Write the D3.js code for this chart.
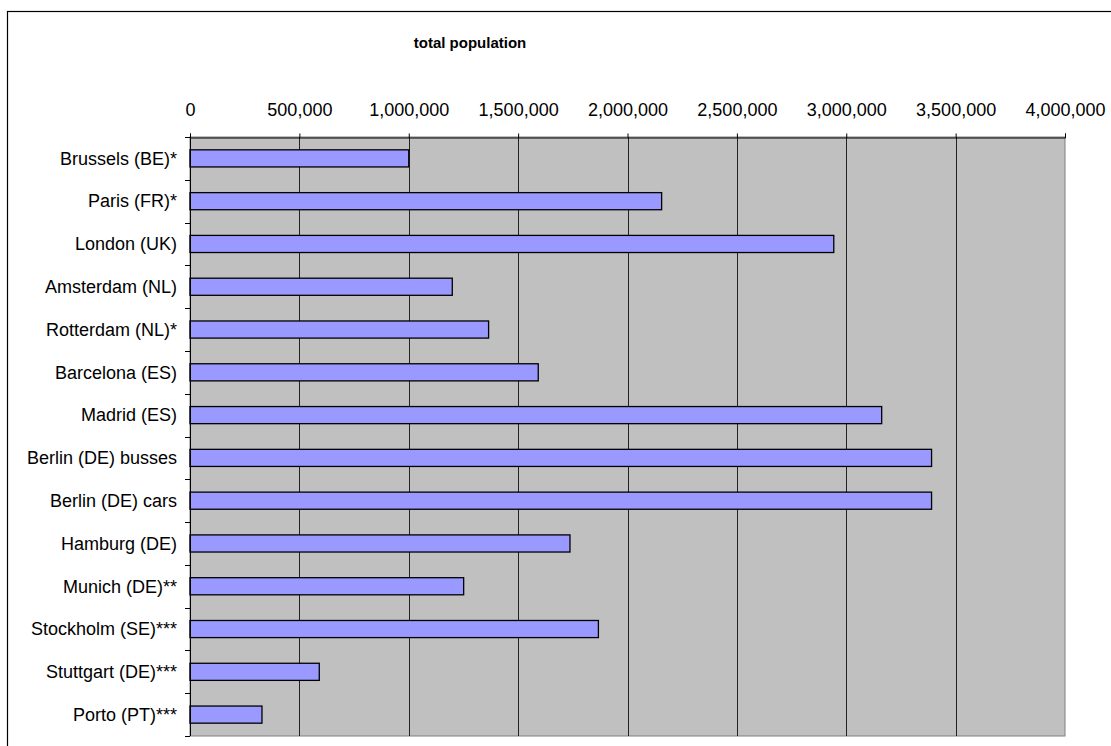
<!DOCTYPE html>
<html>
<head>
<meta charset="utf-8">
<script src="https://cdn.jsdelivr.net/npm/d3@7"></script>
<style>
  html, body { margin: 0; padding: 0; background: #fff; }
  svg { display: block; font-family: Arial, "Liberation Sans", sans-serif; }
</style>
</head>
<body>
<svg id="chart" width="1111" height="746"></svg>
<script>
// City / vehicle-fleet categories, top to bottom
const categories = [
  "Brussels (BE)*", "Paris (FR)*", "London (UK)", "Amsterdam (NL)",
  "Rotterdam (NL)*", "Barcelona (ES)", "Madrid (ES)", "Berlin (DE) busses",
  "Berlin (DE) cars", "Hamburg (DE)", "Munich (DE)**", "Stockholm (SE)***",
  "Stuttgart (DE)***", "Porto (PT)***"
];
// Total population per category
const population = [
  1000000, 2156000, 2943000, 1199000,
  1365000, 1592000, 3162000, 3390000,
  3390000, 1737000, 1251000, 1867000,
  591000, 329000
];
// Value-axis ticks
const xTicks = [0, 500000, 1000000, 1500000, 2000000, 2500000, 3000000, 3500000, 4000000];
const chartTitle = "total population";

const svg = d3.select("#chart");
const plot = { left: 190, right: 1065, top: 137, bottom: 736 };

const x = d3.scaleLinear().domain([0, 4000000]).range([plot.left, plot.right]);
const y = d3.scaleBand().domain(categories).range([plot.top, plot.bottom])
  .paddingInner(0.6).paddingOuter(0.3);

// Outer chart frame (right and bottom edges run past the canvas)
svg.append("rect")
  .attr("x", 7.5).attr("y", 11.5).attr("width", 1120).attr("height", 760)
  .attr("fill", "#fff").attr("stroke", "#000").attr("stroke-width", 1.2);

// Title
svg.append("text")
  .attr("x", 470).attr("y", 48)
  .attr("text-anchor", "middle")
  .attr("font-size", 15).attr("font-weight", "bold").attr("fill", "#000")
  .text(chartTitle);

// Plot background
svg.append("rect")
  .attr("x", plot.left).attr("y", plot.top)
  .attr("width", plot.right - plot.left).attr("height", plot.bottom - plot.top)
  .attr("fill", "#c0c0c0").attr("stroke", "#808080").attr("stroke-width", 1);

// Vertical gridlines
svg.append("g").selectAll("line")
  .data(xTicks.filter(d => d > 0 && d < 4000000))
  .join("line")
  .attr("x1", d => Math.round(x(d)) + 0.5).attr("x2", d => Math.round(x(d)) + 0.5)
  .attr("y1", plot.top).attr("y2", plot.bottom)
  .attr("stroke", "#222").attr("stroke-width", 1);

// Bars
svg.append("g").selectAll("rect")
  .data(categories.map((c, i) => ({ c, v: population[i] })))
  .join("rect")
  .attr("x", x(0))
  .attr("y", d => y(d.c))
  .attr("width", d => x(d.v) - x(0))
  .attr("height", y.bandwidth())
  .attr("fill", "#9999ff")
  .attr("stroke", "#000").attr("stroke-width", 1.3);

// Top value axis
const xAxis = d3.axisTop(x)
  .tickValues(xTicks)
  .tickSize(4)
  .tickPadding(18)
  .tickFormat(d3.format(","));
const gx = svg.append("g").attr("transform", `translate(0,${plot.top + 0.5})`).call(xAxis);
gx.select(".domain").attr("stroke", "#000");
gx.selectAll(".tick line").attr("stroke", "#000");
gx.selectAll(".tick text")
  .attr("font-size", 18).attr("font-family", "Arial, 'Liberation Sans', sans-serif")
  .attr("fill", "#000");

// Left category axis: line, boundary ticks and labels
svg.append("line")
  .attr("x1", plot.left + 0.5).attr("x2", plot.left + 0.5)
  .attr("y1", plot.top).attr("y2", plot.bottom)
  .attr("stroke", "#000");
const step = y.step();
svg.append("g").selectAll("line")
  .data(d3.range(categories.length + 1))
  .join("line")
  .attr("x1", plot.left - 5).attr("x2", plot.left)
  .attr("y1", i => Math.round(plot.top + i * step) + 0.5)
  .attr("y2", i => Math.round(plot.top + i * step) + 0.5)
  .attr("stroke", "#000");
svg.append("g").selectAll("text")
  .data(categories)
  .join("text")
  .attr("x", 177)
  .attr("y", d => y(d) + y.bandwidth() / 2)
  .attr("dy", "0.35em")
  .attr("text-anchor", "end")
  .attr("font-size", 18).attr("fill", "#000")
  .text(d => d);
</script>
</body>
</html>
